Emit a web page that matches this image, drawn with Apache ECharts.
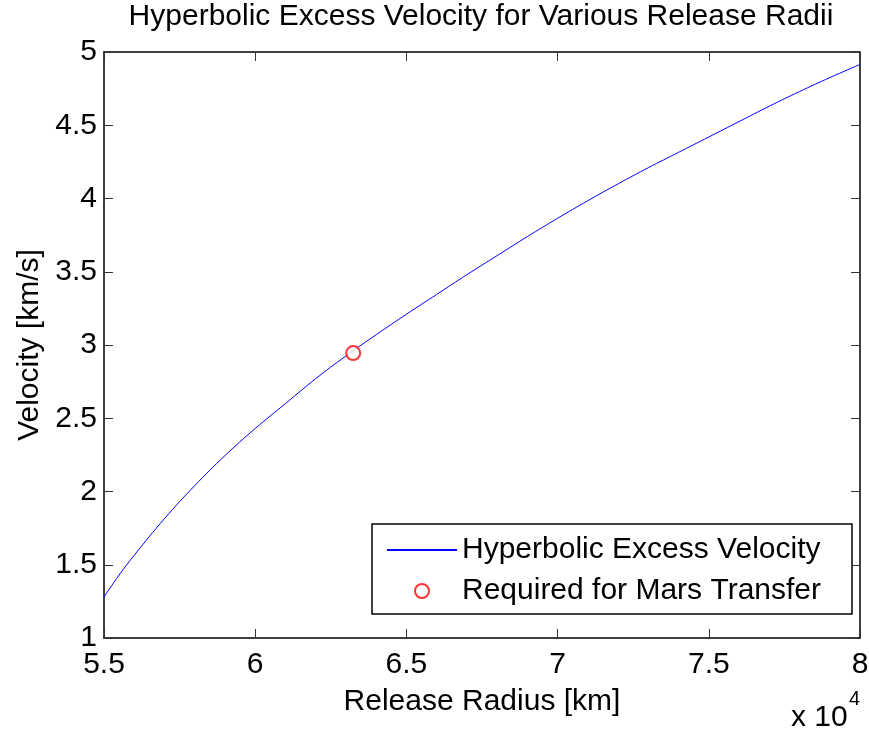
<!DOCTYPE html>
<html>
<head>
<meta charset="utf-8">
<script src="https://cdn.jsdelivr.net/npm/echarts@6/dist/echarts.min.js"></script>
<style>
html,body{margin:0;padding:0;background:#fff;}
#chart{width:869px;height:729px;}
</style>
</head>
<body>
<div id="chart"></div>
<script>
// Data
var releaseRadius = [55000, 55500, 56000, 57000, 58000, 59000, 60000, 61000, 62000, 63000, 64000, 65000, 66000, 67000, 68000, 69000, 70000, 71000, 72000, 73000, 74000, 75000, 76000, 77000, 78000, 79000, 80000];
var excessVelocity = [1.28, 1.43, 1.565, 1.815, 2.04, 2.245, 2.43, 2.60, 2.77, 2.925, 3.07, 3.21, 3.345, 3.48, 3.61, 3.74, 3.865, 3.985, 4.10, 4.21, 4.315, 4.42, 4.525, 4.63, 4.73, 4.825, 4.915];
var marsRadius = [63240];
var marsVelocity = [2.945];
var xTicks = [55000, 60000, 65000, 70000, 75000, 80000];
var yTicks = [1, 1.5, 2, 2.5, 3, 3.5, 4, 4.5, 5];

var FONT = '"Liberation Sans", Arial, sans-serif';
var lineData = releaseRadius.map(function (r, i) { return [r, excessVelocity[i]]; });
var pointData = marsRadius.map(function (r, i) { return [r, marsVelocity[i]]; });

function xLabel(v) { return String(+(v / 10000).toFixed(2)); }
function yLabel(v) { return String(+v.toFixed(2)); }

var axisLineStyle = { show: true, lineStyle: { color: '#000', width: 1.5 } };
var tickStyle = { show: true, inside: true, length: 9, lineStyle: { color: '#333', width: 1 } };

var chart = echarts.init(document.getElementById('chart'), null, { renderer: 'canvas' });
chart.setOption({
  animation: false,
  backgroundColor: '#fff',
  title: {
    text: 'Hyperbolic Excess Velocity for Various Release Radii',
    left: 481,
    textAlign: 'center',
    top: 2,
    padding: 0,
    textStyle: { fontFamily: FONT, fontSize: 30, fontWeight: 'normal', color: '#000' }
  },
  grid: { left: 104, right: 9, top: 52, bottom: 91, containLabel: false, outerBoundsMode: 'none' },
  legend: {
    orient: 'vertical',
    left: 372,
    top: 524,
    padding: [11, 31, 8, 14],
    itemWidth: 70,
    itemHeight: 14,
    itemGap: 11,
    backgroundColor: '#fff',
    borderColor: '#000',
    borderWidth: 1.5,
    borderRadius: 0,
    textStyle: { fontFamily: FONT, fontSize: 30, color: '#000', lineHeight: 30 },
    data: [
      { name: 'Hyperbolic Excess Velocity', itemStyle: { opacity: 0 } },
      { name: 'Required for Mars Transfer' }
    ]
  },
  xAxis: [{
    type: 'value', position: 'bottom', min: 55000, max: 80000, interval: 5000,
    axisLine: axisLineStyle, axisTick: tickStyle, splitLine: { show: false },
    axisLabel: { formatter: xLabel, margin: 12, fontFamily: FONT, fontSize: 30, color: '#000', showMinLabel: true, showMaxLabel: true },
    name: 'Release Radius [km]', nameLocation: 'middle', nameGap: 49,
    nameTextStyle: { fontFamily: FONT, fontSize: 30, color: '#000' }
  }, {
    type: 'value', position: 'top', min: 55000, max: 80000, interval: 5000,
    axisLine: axisLineStyle, axisTick: tickStyle, splitLine: { show: false },
    axisLabel: { show: false }
  }],
  yAxis: [{
    type: 'value', position: 'left', min: 1, max: 5, interval: 0.5,
    axisLine: axisLineStyle, axisTick: tickStyle, splitLine: { show: false },
    axisLabel: { formatter: yLabel, margin: 7, fontFamily: FONT, fontSize: 30, color: '#000', showMinLabel: true, showMaxLabel: true },
    name: 'Velocity [km/s]', nameLocation: 'middle', nameGap: 57, nameRotate: 90,
    nameTextStyle: { fontFamily: FONT, fontSize: 30, color: '#000' }
  }, {
    type: 'value', position: 'right', min: 1, max: 5, interval: 0.5,
    axisLine: axisLineStyle, axisTick: tickStyle, splitLine: { show: false },
    axisLabel: { show: false }
  }],
  graphic: [{
    type: 'text', x: 791, y: 718,
    style: { text: 'x 10', font: '30px ' + FONT, fill: '#000', textAlign: 'left', textVerticalAlign: 'middle', verticalAlign: 'middle' }
  }, {
    type: 'text', x: 849, y: 699,
    style: { text: '4', font: '20px ' + FONT, fill: '#000', textAlign: 'left', textVerticalAlign: 'middle', verticalAlign: 'middle' }
  }],
  series: [{
    name: 'Hyperbolic Excess Velocity',
    type: 'line',
    data: lineData,
    showSymbol: false,
    symbol: 'none',
    smooth: 0.4,
    lineStyle: { color: '#0000ff', width: 1 },
    itemStyle: { color: '#0000ff' },
    z: 2
  }, {
    name: 'Required for Mars Transfer',
    type: 'scatter',
    data: pointData,
    symbol: 'emptyCircle',
    symbolSize: 14,
    itemStyle: { color: '#ff0000', borderColor: '#ff0000', borderWidth: 1.2 },
    z: 3
  }]
});
</script>
</body>
</html>
